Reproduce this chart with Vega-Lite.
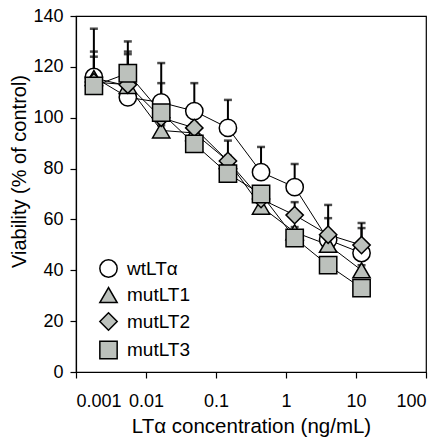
{
  "$schema": "https://vega.github.io/schema/vega-lite/v6.json",
  "width": 350,
  "height": 356,
  "autosize": {"type": "none"},
  "padding": {"left": 76, "top": 16, "right": 19, "bottom": 69},
  "background": "white",
  "config": {
    "view": {"stroke": "black", "strokeWidth": 1.2},
    "font": "Liberation Sans",
    "axis": {
      "domainColor": "black", "domainWidth": 1.2, "tickColor": "black", "tickWidth": 1.2,
      "labelColor": "black", "titleColor": "black", "labelFontSize": 18, "titleFontSize": 20.5,
      "titleFontWeight": "normal", "grid": false, "tickSize": 6
    }
  },
  "data": {
    "values": [
      {"series": "wtLTα", "conc": 0.0018, "mean": 116, "upper": 135},
      {"series": "wtLTα", "conc": 0.0055, "mean": 108, "upper": 130},
      {"series": "wtLTα", "conc": 0.0165, "mean": 106, "upper": 121.5},
      {"series": "wtLTα", "conc": 0.049, "mean": 102.6, "upper": 113.6},
      {"series": "wtLTα", "conc": 0.148, "mean": 96, "upper": 107},
      {"series": "wtLTα", "conc": 0.44, "mean": 78.6, "upper": 88.5},
      {"series": "wtLTα", "conc": 1.33, "mean": 72.7, "upper": 81.8},
      {"series": "wtLTα", "conc": 4, "mean": 52, "upper": 65.7},
      {"series": "wtLTα", "conc": 12, "mean": 46.8, "upper": 58.6},
      {"series": "mutLT1", "conc": 0.0018, "mean": 115.6, "upper": 126},
      {"series": "mutLT1", "conc": 0.0055, "mean": 112.5, "upper": 126},
      {"series": "mutLT1", "conc": 0.0165, "mean": 95, "upper": 97},
      {"series": "mutLT1", "conc": 0.049, "mean": 94, "upper": 96},
      {"series": "mutLT1", "conc": 0.148, "mean": 83, "upper": 85},
      {"series": "mutLT1", "conc": 0.44, "mean": 65, "upper": 67},
      {"series": "mutLT1", "conc": 1.33, "mean": 55, "upper": 57},
      {"series": "mutLT1", "conc": 4, "mean": 50, "upper": 52},
      {"series": "mutLT1", "conc": 12, "mean": 40, "upper": 42},
      {"series": "mutLT2", "conc": 0.0018, "mean": 114, "upper": 124},
      {"series": "mutLT2", "conc": 0.0055, "mean": 113, "upper": 125},
      {"series": "mutLT2", "conc": 0.0165, "mean": 100, "upper": 113.6},
      {"series": "mutLT2", "conc": 0.049, "mean": 96, "upper": 98},
      {"series": "mutLT2", "conc": 0.148, "mean": 83, "upper": 91},
      {"series": "mutLT2", "conc": 0.44, "mean": 68, "upper": 70},
      {"series": "mutLT2", "conc": 1.33, "mean": 61.7, "upper": 66.8},
      {"series": "mutLT2", "conc": 4, "mean": 54, "upper": 60.5},
      {"series": "mutLT2", "conc": 12, "mean": 49.9, "upper": 56.6},
      {"series": "mutLT3", "conc": 0.0018, "mean": 112.5, "upper": 114},
      {"series": "mutLT3", "conc": 0.0055, "mean": 117.5, "upper": 119},
      {"series": "mutLT3", "conc": 0.0165, "mean": 102, "upper": 104},
      {"series": "mutLT3", "conc": 0.049, "mean": 89.7, "upper": 91},
      {"series": "mutLT3", "conc": 0.148, "mean": 78, "upper": 80},
      {"series": "mutLT3", "conc": 0.44, "mean": 70, "upper": 72},
      {"series": "mutLT3", "conc": 1.33, "mean": 52.7, "upper": 54},
      {"series": "mutLT3", "conc": 4, "mean": 42, "upper": 44},
      {"series": "mutLT3", "conc": 12, "mean": 33, "upper": 35}
    ]
  },
  "encoding": {
    "x": {
      "field": "conc", "type": "quantitative",
      "scale": {"type": "log", "domain": [0.001, 100], "nice": false},
      "axis": {"values": [0.001, 0.01, 0.1, 1, 10, 100], "format": "~g", "title": "LTα concentration (ng/mL)", "labelPadding": 14, "titlePadding": 6}
    },
    "y": {
      "field": "mean", "type": "quantitative",
      "scale": {"domain": [0, 140], "nice": false},
      "axis": {"values": [0, 20, 40, 60, 80, 100, 120, 140], "title": "Viability (% of control)", "titleFontSize": 20, "labelPadding": 7, "titlePadding": 3, "titleY": 155}
    }
  },
  "layer": [
    {
      "mark": {"type": "rule", "color": "black", "strokeWidth": 2},
      "encoding": {"y2": {"field": "upper"}}
    },
    {
      "mark": {"type": "tick", "color": "black", "thickness": 2.5, "size": 8, "orient": "horizontal"},
      "encoding": {"y": {"field": "upper", "type": "quantitative"}}
    },
    {
      "mark": {"type": "line", "color": "black", "strokeWidth": 1},
      "encoding": {"detail": {"field": "series"}}
    },
    {
      "mark": {"type": "point", "filled": false, "stroke": "black", "strokeWidth": 1.5, "opacity": 1, "size": 300},
      "encoding": {
        "shape": {
          "field": "series", "type": "nominal",
          "scale": {"domain": ["wtLTα", "mutLT1", "mutLT2", "mutLT3"], "range": ["circle", "triangle-up", "diamond", "square"]},
          "legend": {
            "title": null, "orient": "none", "legendX": 23, "legendY": 243, "padding": 0,
            "symbolSize": 300, "symbolStrokeColor": "black", "symbolStrokeWidth": 1.5,
            "labelFontSize": 19, "labelColor": "black", "labelOffset": 9, "rowPadding": 3.5,
            "symbolOpacity": 1,
            "encode": {"symbols": {"update": {"stroke": {"value": "black"}, "strokeWidth": {"value": 1.5}}}}
          }
        },
        "fill": {
          "field": "series", "type": "nominal",
          "scale": {"domain": ["wtLTα", "mutLT1", "mutLT2", "mutLT3"], "range": ["white", "#bcc1bc", "#bcc1bc", "#bcc1bc"]},
          "legend": {
            "title": null, "orient": "none", "legendX": 23, "legendY": 243, "padding": 0,
            "symbolSize": 300, "symbolStrokeColor": "black", "symbolStrokeWidth": 1.5,
            "labelFontSize": 19, "labelColor": "black", "labelOffset": 9, "rowPadding": 3.5,
            "symbolOpacity": 1,
            "encode": {"symbols": {"update": {"stroke": {"value": "black"}, "strokeWidth": {"value": 1.5}}}}
          }
        }
      }
    }
  ]
}
